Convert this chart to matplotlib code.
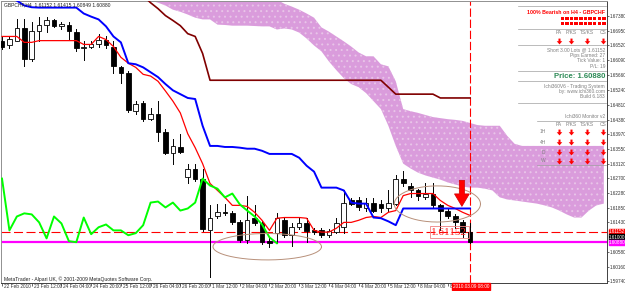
import numpy as np
import matplotlib
matplotlib.use("Agg")
import matplotlib.pyplot as plt
from matplotlib.patches import Rectangle, FancyArrow
from matplotlib.transforms import ScaledTranslation

W, H = 625, 291

# --- GBPCHF H4 candles, 22 Feb 20:00 .. 9 Mar 08:00 ---
opens = [1.6664, 1.6652, 1.6666, 1.6701, 1.6612, 1.6695, 1.6712, 1.6724, 1.6709, 1.6712,
         1.6692, 1.6644, 1.6649, 1.6655, 1.6669, 1.6649, 1.6589, 1.6572, 1.6463, 1.6486,
         1.6441, 1.6455, 1.6403, 1.6343, 1.6360, 1.6275, 1.6298, 1.6269, 1.6120, 1.6160,
         1.6172, 1.6169, 1.6143, 1.6092, 1.6157, 1.6140, 1.6089, 1.6112, 1.6149, 1.6106,
         1.6129, 1.6140, 1.6120, 1.6120, 1.6106, 1.6115, 1.6129, 1.6206, 1.6206, 1.6183,
         1.6200, 1.6195, 1.6183, 1.6197, 1.6269, 1.6249, 1.6235, 1.6215, 1.6226, 1.6192,
         1.6177, 1.6160, 1.6143, 1.61152]
highs = [1.6675, 1.6678, 1.6727, 1.6727, 1.6721, 1.6735, 1.6735, 1.6729, 1.6721, 1.6721,
         1.6698, 1.6664, 1.6664, 1.6684, 1.6678, 1.6664, 1.6592, 1.6578, 1.6492, 1.6492,
         1.6472, 1.6492, 1.6412, 1.6383, 1.6398, 1.6312, 1.6312, 1.6298, 1.6192, 1.6197,
         1.6195, 1.6177, 1.6149, 1.6220, 1.6192, 1.6146, 1.6100, 1.6169, 1.6157, 1.6140,
         1.6157, 1.6157, 1.6126, 1.6126, 1.6123, 1.6157, 1.6235, 1.6212, 1.6217, 1.6212,
         1.6212, 1.6206, 1.6235, 1.6278, 1.6292, 1.6257, 1.6240, 1.6255, 1.6255, 1.6197,
         1.6183, 1.6166, 1.6149, 1.61415]
lows = [1.6641, 1.6646, 1.6664, 1.6592, 1.6606, 1.6666, 1.6692, 1.6704, 1.6698, 1.6672,
        1.6635, 1.6609, 1.6644, 1.6649, 1.6646, 1.6572, 1.6544, 1.6461, 1.6455, 1.6435,
        1.6438, 1.6378, 1.6340, 1.6312, 1.6343, 1.6255, 1.6263, 1.6117, 1.5986, 1.6155,
        1.6163, 1.6137, 1.6086, 1.6083, 1.6135, 1.6080, 1.6072, 1.6083, 1.6100, 1.6074,
        1.6123, 1.6086, 1.6109, 1.6100, 1.6100, 1.6112, 1.6112, 1.6192, 1.6180, 1.6177,
        1.6172, 1.6174, 1.6177, 1.6192, 1.6249, 1.6215, 1.6206, 1.6209, 1.6186, 1.6120,
        1.6155, 1.6126, 1.6100, 1.60849]
closes = [1.6649, 1.6672, 1.6701, 1.6612, 1.6695, 1.6712, 1.6724, 1.6709, 1.6715, 1.6695,
          1.6644, 1.6649, 1.6655, 1.6669, 1.6652, 1.6592, 1.6572, 1.6466, 1.6483, 1.6441,
          1.6455, 1.6403, 1.6343, 1.6363, 1.6346, 1.6298, 1.6269, 1.6123, 1.6157, 1.6172,
          1.6169, 1.6143, 1.6092, 1.6149, 1.6140, 1.6086, 1.6083, 1.6157, 1.6106, 1.6129,
          1.6140, 1.6117, 1.6115, 1.6106, 1.6117, 1.6140, 1.6200, 1.6197, 1.6186, 1.6200,
          1.6177, 1.6183, 1.6200, 1.6269, 1.6255, 1.6235, 1.6220, 1.6226, 1.6192, 1.6177,
          1.6160, 1.6143, 1.6115, 1.60880]

# --- Ichimoku lines ---
tenkan = [1.6678, 1.6678, 1.6678, 1.6661, 1.6661, 1.6666, 1.6666, 1.6666, 1.6666, 1.6666,
          1.6666, 1.6655, 1.6655, 1.6678, 1.6669, 1.6649, 1.6618, 1.6601, 1.6589, 1.6569,
          1.6564, 1.6549, 1.6521, 1.6492, 1.6458, 1.6398, 1.6358, 1.6312, 1.6255, 1.6235,
          1.6215, 1.6192, 1.6192, 1.6189, 1.6172, 1.6149, 1.6120, 1.6155, 1.6157, 1.6157,
          1.6157, 1.6155, 1.6120, 1.6115, 1.6115, 1.6126, 1.6143, 1.6143, 1.6149, 1.6157,
          1.6160, 1.6157, 1.6172, 1.6177, 1.6220, 1.6226, 1.6226, 1.6226, 1.6226, 1.6206,
          1.6192, 1.6183, 1.6172, 1.6163]
kijun = [1.6792, 1.6792, 1.6781, 1.6767, 1.6762, 1.6761, 1.6761, 1.6761, 1.6761, 1.6761,
         1.6761, 1.6744, 1.6735, 1.6727, 1.6707, 1.6678, 1.6661, 1.6601, 1.6598, 1.6589,
         1.6575, 1.6561, 1.6541, 1.6523, 1.6512, 1.6501, 1.6498, 1.6421, 1.6363, 1.6363,
         1.6360, 1.6360, 1.6358, 1.6355, 1.6355, 1.6349, 1.6340, 1.6340, 1.6340, 1.6340,
         1.6329, 1.6306, 1.6289, 1.6243, 1.6243, 1.6243, 1.6235, 1.6200, 1.6197, 1.6197,
         1.6157, 1.6155, 1.6146, 1.6135, 1.6183, 1.6183, 1.6183, 1.6183, 1.6183, 1.6183,
         1.6183, 1.6183, 1.6183, 1.6183]
# dark red line starts at bar 19
kijun_htf = [1.6795, 1.6775, 1.6758, 1.6738, 1.6724, 1.6709, 1.6686, 1.6678, 1.6629, 1.6552,
             1.6552, 1.6552, 1.6552, 1.6552, 1.6552, 1.6552, 1.6552, 1.6552, 1.6552, 1.6552,
             1.6552, 1.6552, 1.6552, 1.6552, 1.6552, 1.6552, 1.6552, 1.6552, 1.6552, 1.6552,
             1.6552, 1.6552, 1.6552, 1.6532, 1.6512, 1.6512, 1.6512, 1.6512, 1.6512, 1.6512,
             1.6501, 1.6501, 1.6501, 1.6501, 1.6501]
chikou = [1.6269, 1.6120, 1.6160, 1.6169, 1.6166, 1.6143, 1.6097, 1.6160, 1.6140, 1.6089,
          1.6086, 1.6157, 1.6109, 1.6129, 1.6137, 1.6120, 1.6120, 1.6106, 1.6112, 1.6135,
          1.6200, 1.6203, 1.6186, 1.6200, 1.6177, 1.6183, 1.6200, 1.6269, 1.6249, 1.6240,
          1.6215, 1.6226, 1.6195, 1.6177, 1.6160, 1.6137, 1.6100, 1.6083]
# kumo from bar 19 to bar 81
cloud_top = [1.6835] * 18 + [
    1.6784, 1.6772, 1.6764, 1.6755, 1.6744, 1.6732, 1.6704, 1.6692, 1.6678, 1.6664,
    1.6649, 1.6632, 1.6621, 1.6621, 1.6598, 1.6592, 1.6549, 1.6469, 1.6463, 1.6458,
    1.6452, 1.6446, 1.6443, 1.6440, 1.6438, 1.6435, 1.6429, 1.6423, 1.6421, 1.6421,
    1.6421, 1.6392, 1.6369] + [1.6363] * 12
cloud_bottom = [1.6789, 1.6781, 1.6775, 1.6767, 1.6755, 1.6749, 1.6741, 1.6732, 1.6727, 1.6727,
                1.6712, 1.6711, 1.6709, 1.6709, 1.6709, 1.6708, 1.6707, 1.6707, 1.6698, 1.6701,
                1.6698, 1.6689, 1.6672, 1.6652, 1.6635, 1.6606, 1.6581, 1.6558, 1.6541, 1.6532,
                1.6515, 1.6492, 1.6469, 1.6421, 1.6363, 1.6312, 1.6298, 1.6286, 1.6278, 1.6272,
                1.6266, 1.6258, 1.6252, 1.6246, 1.6243, 1.6243, 1.6240, 1.6235, 1.6215, 1.6209,
                1.6206, 1.6203, 1.6200, 1.6197, 1.6192, 1.6186, 1.6177, 1.6166, 1.6157, 1.6157,
                1.6177, 1.6192, 1.6197]

time_labels = ["22 Feb 2010", "23 Feb 12:00", "24 Feb 04:00", "24 Feb 20:00", "25 Feb 12:00",
               "26 Feb 04:00", "26 Feb 20:00", "1 Mar 12:00", "2 Mar 04:00", "2 Mar 20:00",
               "3 Mar 12:00", "4 Mar 04:00", "4 Mar 20:00", "5 Mar 12:00", "8 Mar 04:00",
               "8 Mar 20:00"]
price_ticks = [1.67380, 1.66950, 1.66520, 1.66090, 1.65660, 1.65240, 1.64810, 1.64380,
               1.63970, 1.63550, 1.63120, 1.62700, 1.62280, 1.61850, 1.61430, 1.60580,
               1.60160, 1.59740]

entry_price = 1.61152
bid_price = 1.60880


def fx(px):
    return px / W


def fy(py):
    return 1 - py / H


plt.rcParams["font.family"] = ["Liberation Sans", "DejaVu Sans"]
plt.rcParams["lines.scale_dashes"] = False
plt.rcParams["hatch.linewidth"] = 0.7

fig = plt.figure(figsize=(W / 100, H / 100), dpi=100)
fig.patch.set_facecolor("white")
ax = fig.add_axes([fx(1), fy(283), fx(607) - fx(1), fy(1) - fy(283)])
ax.set_xlim(-0.135, 81.43)
ax.set_ylim(1.59686, 1.67800)

n = len(opens)
idx = np.arange(n)

# kumo
cx = np.arange(19, 19 + len(cloud_top))
ax.fill_between(cx, cloud_bottom, cloud_top, facecolor="#DA9CDC", edgecolor="#E8C4E8",
                hatch="...", linewidth=0, zorder=1)

# horizontal / vertical markers
ax.axhline(entry_price, color="#FF0000", lw=0.8, ls=(0, (6.5, 2.5)), zorder=2)
ax.axhline(bid_price, color="#FF00FF", lw=1.6, zorder=2)
ax.axvline(n - 1, color="#FF0000", lw=0.8, ls=(0, (6, 2)), zorder=2)

# candles
for i in range(n):
    o, h, l, c = opens[i], highs[i], lows[i], closes[i]
    ax.plot([i, i], [l, h], color="black", lw=0.7, zorder=3)
    bottom = min(o, c)
    height = max(abs(c - o), 0.00012)
    face = "black" if c < o else "white"
    ax.add_patch(Rectangle((i - 0.31, bottom), 0.62, height, facecolor=face,
                           edgecolor="black", lw=0.6, zorder=4))

# lines
ax.plot(idx, tenkan, color="#FF0000", lw=0.9, zorder=5)
ax.plot(idx, kijun, color="#0000FF", lw=1.4, zorder=5)
ax.plot(np.arange(19, 19 + len(kijun_htf)), kijun_htf, color="#800000", lw=1.2, zorder=5)
ax.plot(np.arange(len(chikou)), chikou, color="#00FF00", lw=1.4, zorder=5)

# hand drawn ellipses
t = np.linspace(0, 2 * np.pi, 200)
for ecx, ecy, ea, eb in [(35.7, 1.6073, 7.3, 0.0038), (58.6, 1.6196, 5.8, 0.0052)]:
    ax.plot(ecx + ea * np.cos(t), ecy + eb * np.sin(t), color="#B8907A", lw=0.7, zorder=6)

# big red arrow
ax.add_patch(FancyArrow(61.9, 1.6264, 0, -0.0075, width=0.7, head_width=2.0,
                        head_length=0.0036, length_includes_head=True,
                        facecolor="#FF0000", edgecolor="#D00000", lw=0.5, zorder=7))

# label on chart
ax.text(60.2, 1.61145, "1.61152", color="#FF2020", fontsize=8, family="Liberation Serif",
        ha="center", va="center", zorder=8,
        bbox=dict(boxstyle="square,pad=0.12", fc="none", ec="#F08080", lw=0.6))

# axes styling
for side in ["top", "left"]:
    ax.spines[side].set_color("#909090")
    ax.spines[side].set_linewidth(0.7)
for side in ["bottom", "right"]:
    ax.spines[side].set_color("#404040")
    ax.spines[side].set_linewidth(0.7)

ax.yaxis.tick_right()
ax.set_yticks(price_ticks)
ax.set_yticklabels([f"{p:.5f}" for p in price_ticks])
ax.tick_params(axis="y", labelsize=3.3, length=1.5, width=0.5, pad=0.5, colors="#303030")

ax.set_xticks(np.arange(0, 4 * len(time_labels), 4))
ax.set_xticklabels(time_labels)
ax.tick_params(axis="x", labelsize=3.4, length=2.5, width=0.5, pad=-2.0, colors="#303030",
               direction="out")
offset = ScaledTranslation(2.0 / 100, 0, fig.dpi_scale_trans)
for lab in ax.get_xticklabels():
    lab.set_horizontalalignment("left")
    lab.set_transform(lab.get_transform() + offset)

# header / footer text
fig.text(fx(4), fy(4.5), "GBPCHF,H4  1.61152 1.61415 1.60849 1.60880", fontsize=3.6,
         color="#202020", va="center")
fig.text(fx(4), fy(279), "MetaTrader - Alpari UK, \u00a9 2001-2009 MetaQuotes Software Corp.",
         fontsize=3.6, color="#202020", va="center")

# axis price/time boxes
box_kw = dict(boxstyle="square,pad=0.1")
fig.text(fx(609), fy(231.5), "1.61152", fontsize=3.3, color="white", va="center",
         bbox=dict(**box_kw, fc="#FF0000", ec="#FF0000"))
fig.text(fx(609), fy(237.3), "1.61000", fontsize=3.3, color="white", va="center",
         bbox=dict(**box_kw, fc="black", ec="black"))
fig.text(fx(609), fy(242.5), "1.60880", fontsize=3.3, color="white", va="center",
         bbox=dict(**box_kw, fc="#FF00FF", ec="#FF00FF"))
fig.text(fx(471), fy(286.5), "2010.03.09 08:00", fontsize=3.4, color="white", va="center",
         ha="center", bbox=dict(boxstyle="square,pad=0.2", fc="#FF0000", ec="#FF0000"))

# --- Ichi360 info panel ---
grey = "#808080"
for py in [6, 29, 45, 71, 81, 103]:
    fig.add_artist(plt.Line2D([fx(518), fx(606)], [fy(py), fy(py)], color="#A0A0A0", lw=0.5))
fig.text(fx(605), fy(12), "100% Bearish on H4 - GBPCHF", fontsize=3.8, color="#FF0000",
         weight="bold", ha="right", va="center")
# strength blocks, 2 rows x 10
for row_top in [17.0, 22.0]:
    for k in range(10):
        fig.add_artist(Rectangle((fx(560.5 + 4.65 * k), fy(row_top + 3.4)), 3.4 / W, 3.4 / H,
                                 transform=fig.transFigure, facecolor="#FF0000", lw=0))

arrow_marker = [(-0.35, 1), (0.35, 1), (0.35, 0.1), (0.95, 0.1), (0, -1), (-0.95, 0.1),
                (-0.35, 0.1), (-0.35, 1)]
col_names = ["PA", "P/KS", "TS/KS", "CS"]
col_x = [559, 571, 587, 603]
for name, cxp in zip(col_names, col_x):
    fig.text(fx(cxp), fy(33), name, fontsize=3.5, color=grey, ha="center", va="center")
fig.add_artist(plt.Line2D([fx(c) for c in col_x], [fy(41)] * 4, ls="none",
                          marker=arrow_marker, ms=4.2, color="#FF0000", mew=0))

info_lines = [("Short 3.00 Lots @ 1.61152", 50), ("Pips Earned: 27", 55.5),
              ("Tick Value: 1", 61), ("P/L: 19", 66.5)]
for txt, py in info_lines:
    fig.text(fx(605), fy(py), txt, fontsize=3.5, color=grey, ha="right", va="center")
fig.text(fx(605), fy(76), "Price: 1.60880", fontsize=5.6, color="#2E8B57", weight="bold",
         ha="right", va="center")
for txt, py in [("Ichi360V6 - Trading System", 86), ("by: www.ichi360.com", 91.5),
                ("Build 6.183", 97)]:
    fig.text(fx(605), fy(py), txt, fontsize=3.5, color=grey, ha="right", va="center")

# --- monitor panel ---
fig.text(fx(605), fy(117), "Ichi360 Monitor v2", fontsize=3.5, color=grey, ha="right",
         va="center")
fig.add_artist(plt.Line2D([fx(537), fx(606)], [fy(121), fy(121)], color="#A0A0A0", lw=0.5))
fig.add_artist(plt.Line2D([fx(537), fx(606)], [fy(165), fy(165)], color="#A0A0A0", lw=0.5))
for name, cxp in zip(col_names, col_x):
    fig.text(fx(cxp), fy(125), name, fontsize=3.5, color=grey, ha="center", va="center")
for tf, py in [("1H", 132), ("4H", 142), ("D", 152), ("W", 161)]:
    fig.text(fx(543), fy(py), tf, fontsize=3.5, color=grey, ha="center", va="center")
    fig.add_artist(plt.Line2D([fx(c) for c in col_x], [fy(py)] * 4, ls="none",
                              marker=arrow_marker, ms=4.2, color="#FF0000", mew=0))

fig.savefig("out.png", dpi=100, facecolor="white")
